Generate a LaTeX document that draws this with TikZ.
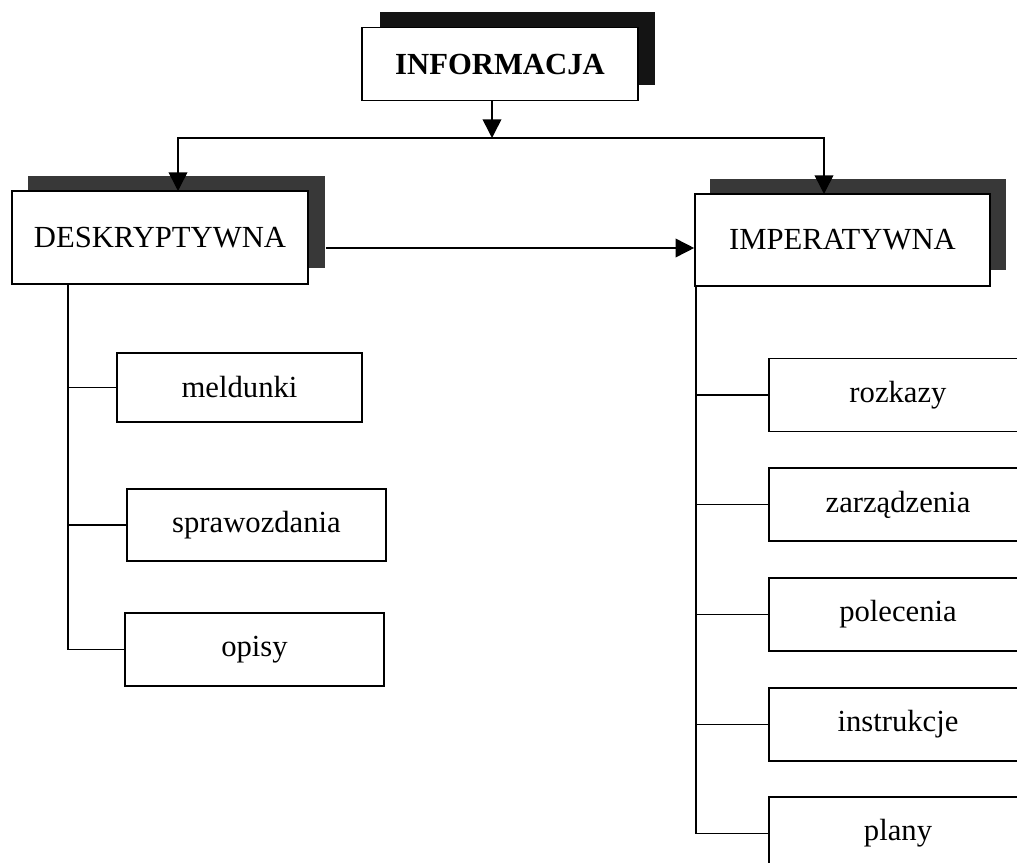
\documentclass[tikz,border=0pt]{standalone}
\usepackage{fontspec}
\setmainfont{Liberation Serif}
\usetikzlibrary{arrows.meta}
\begin{document}
% one unit = one pixel (0.75pt), y grows downwards
\begin{tikzpicture}[x=0.75pt,y=-0.75pt,
  line width=1.2pt,
  box/.style={draw=black, fill=white, line width=1.2pt, inner sep=0pt,
    font=\fontsize{23}{27}\selectfont},
  shade/.style={fill=black!78, draw=none, inner sep=0pt},
  arr/.style={-{Triangle[width=14pt,length=14pt]}}]
\clip (0,0) rectangle (1017,863);
\fill[white] (0,0) rectangle (1017,863);

% top level
\node[shade, fill=black!92, minimum width=206.25pt, minimum height=54.75pt] (infoshad) at (517.5,48.5) {};
\node[box, minimum width=207pt, minimum height=54.75pt, font=\fontsize{23}{27}\selectfont\bfseries] (info) at (500,64) {INFORMACJA};

% second level
\node[shade, minimum width=222.75pt, minimum height=69pt] (deskshad) at (176.5,222) {};
\node[box, minimum width=222pt, minimum height=69.75pt] (desk) at (160,237.5) {DESKRYPTYWNA};
\node[shade, minimum width=222pt, minimum height=68.25pt] (impshad) at (858,224.5) {};
\node[box, minimum width=221.25pt, minimum height=69pt] (imp) at (842.5,240) {IMPERATYWNA};

% descriptive kinds
\node[box, minimum width=183.75pt, minimum height=51.75pt] (meld) at (239.5,387.5) {meldunki};
\node[box, minimum width=194.25pt, minimum height=54pt] (spraw) at (256.5,525) {sprawozdania};
\node[box, minimum width=194.25pt, minimum height=54.75pt] (opisy) at (254.5,649.5) {opisy};

% imperative kinds
\node[box, minimum width=193.5pt, minimum height=54.75pt] (rozk) at (898,395) {rozkazy};
\node[box, minimum width=193.5pt, minimum height=54.75pt] (zarz) at (898,504.5) {zarządzenia};
\node[box, minimum width=193.5pt, minimum height=54.75pt] (pol) at (898,614.5) {polecenia};
\node[box, minimum width=193.5pt, minimum height=54.75pt] (instr) at (898,724.5) {instrukcje};
\node[box, minimum width=193.5pt, minimum height=54.75pt] (plany) at (898,833.5) {plany};

% split of the top level
\coordinate (j) at (492,138);
\coordinate (dtop) at (178,191);
\coordinate (itop) at (824,194);
\draw[arr] (info.south -| j) -- (j);
\draw[arr] (j) -| (dtop);
\draw[arr] (j) -| (itop);

% descriptive to imperative
\coordinate (h) at (0,248);
\draw[arr] (deskshad.east |- h) -- (imp.west |- h);

% left trunk
\coordinate (lx) at (68,0);
\draw (desk.south -| lx) |- (opisy.west);
\draw (meld.west -| lx) -- (meld.west);
\draw (spraw.west -| lx) -- (spraw.west);

% right trunk
\coordinate (rx) at (696,0);
\draw (imp.south -| rx) |- (plany.west);
\draw (rozk.west -| rx) -- (rozk.west);
\draw (zarz.west -| rx) -- (zarz.west);
\draw (pol.west -| rx) -- (pol.west);
\draw (instr.west -| rx) -- (instr.west);
\end{tikzpicture}
\end{document}
